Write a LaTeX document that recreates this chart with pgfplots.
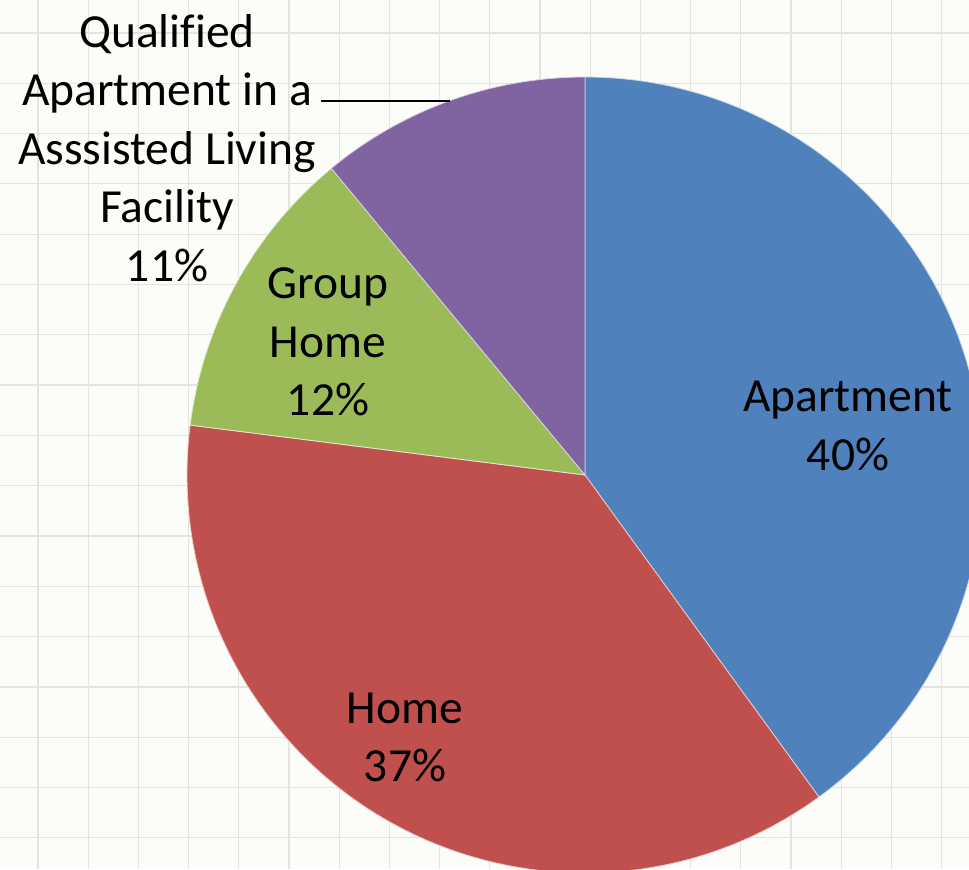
\documentclass[border=0pt]{standalone}
\usepackage{pgfplots}
\pgfplotsset{compat=1.18}
\usepackage{fontspec}
\setmainfont[Ligatures=NoCommon]{Carlito}
\definecolor{cA}{HTML}{4F81BD}
\definecolor{cB}{HTML}{C0504D}
\definecolor{cC}{HTML}{9BBB59}
\definecolor{cD}{HTML}{8064A2}
\definecolor{bgc}{HTML}{FCFDF8}
\definecolor{gridc}{HTML}{E3E4DF}
\begin{document}
\begin{tikzpicture}
\begin{axis}[
  width=484.5pt, height=434.5pt, scale only axis,
  xmin=0, xmax=969, ymin=0, ymax=869,
  axis line style={draw=none},
  xtick={38,88.2,...,950}, ytick={31.2,81.5,...,840},
  xticklabels={}, yticklabels={},
  major tick length=0pt,
  grid=major, major grid style={draw=gridc, line width=0.6pt},
  axis background/.style={fill=bgc},
  clip=true,
]
\coordinate (SW) at (rel axis cs:0,0);
\coordinate (NE) at (rel axis cs:1,1);
\pgfplotsextra{
  \xdef\curang{90}
  \foreach \v/\c in {40/cA, 37/cB, 12/cC, 11/cD}{
    \pgfmathsetmacro\endang{\curang - 3.6*\v}
    \fill[\c, draw=white!70!\c, line width=0.4pt] (axis cs:585,394) -- ++(\curang:199pt)
      arc[start angle=\curang, end angle=\endang, radius=199pt] -- cycle;
    \xdef\curang{\endang}
  }
}
\draw[black, line width=0.9pt] (axis cs:321,768) -- (axis cs:450,768);
\node[align=center, font=\fontsize{23.75}{29.3}\selectfont] at (axis cs:848,443) {Apartment\\40\%};
\node[align=center, font=\fontsize{23.75}{29.3}\selectfont] at (axis cs:405,131.5) {Home\\37\%};
\node[align=center, font=\fontsize{23.75}{29.3}\selectfont] at (axis cs:328,527) {Group\\Home\\12\%};
\node[align=center, font=\fontsize{23.75}{29.3}\selectfont] at (axis cs:167,721) {Qualified\\Apartment in a\\Asssisted Living\\Facility\\11\%};
\end{axis}
\pgfresetboundingbox
\path (SW) rectangle (NE);
\end{tikzpicture}
\end{document}
